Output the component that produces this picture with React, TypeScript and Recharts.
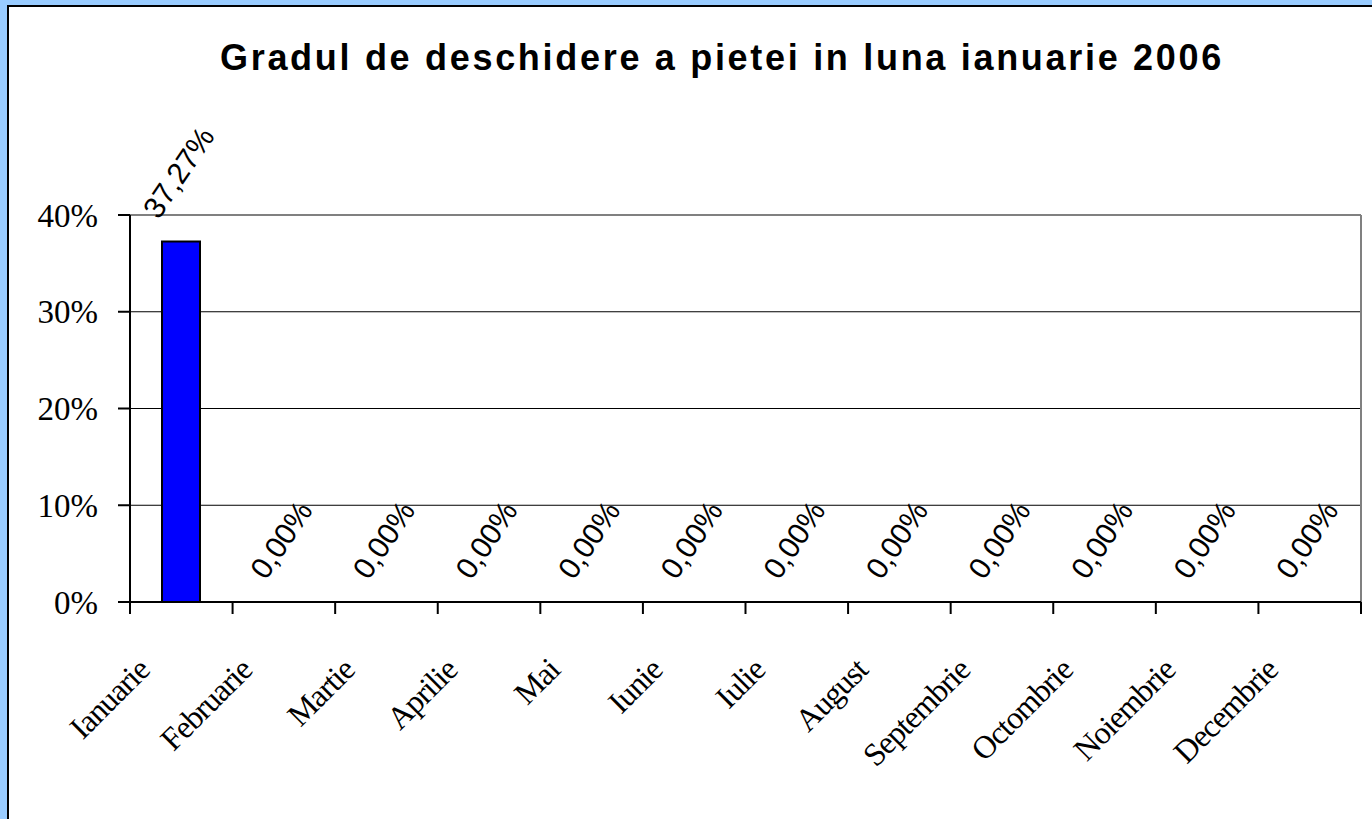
import { ComposedChart, Bar, Line, XAxis, YAxis, CartesianGrid, ReferenceLine, LabelList } from 'recharts';

const MONTHS = ['Ianuarie', 'Februarie', 'Martie', 'Aprilie', 'Mai', 'Iunie', 'Iulie', 'August', 'Septembrie', 'Octombrie', 'Noiembrie', 'Decembrie'];
const OPENNESS = [0.3727, 0, 0, 0, 0, 0, 0, 0, 0, 0, 0, 0];
const Y_TICKS = [0, 0.1, 0.2, 0.3, 0.4];
const EDGE_TICKS = [0, 1, 2, 3, 4, 5, 6, 7, 8, 9, 10, 11, 12];

const data = MONTHS.map((month, i) => ({ month, value: OPENNESS[i] }));

const pct = (v: number) => `${Math.round(v * 100)}%`;
const pct2 = (v: number) => `${(v * 100).toFixed(2).replace('.', ',')}%`;

// rough Arial advance widths (em), used to centre the rotated label over its bar
const emWidth = (s: string) => s.split('').reduce((w, c) => w + (c === ',' ? 0.278 : c === '%' ? 0.889 : 0.556), 0);

const LABEL_FONT = 30;
const LABEL_ANGLE = 56;

const MonthTick = (props: any) => {
    const { x, y, payload } = props;
    const tx = x - 30;
    const ty = y + 69;
    return (
        <text x={tx} y={ty} textAnchor="end" transform={`rotate(-45 ${tx} ${ty})`}
            fontFamily="'Liberation Serif', serif" fontSize={32} letterSpacing={-1} fill="#000">
            {payload.value}
        </text>
    );
};

const ValueLabel = (props: any) => {
    const { x, y, value } = props;
    const txt = pct2(value);
    const a = (LABEL_ANGLE * Math.PI) / 180;
    const L = emWidth(txt) * LABEL_FONT;
    const h = 0.716 * LABEL_FONT;
    const tx = x - 3 + 0.5 * (h * Math.sin(a) - L * Math.cos(a));
    const ty = y - 21;
    return (
        <text x={tx} y={ty} textAnchor="start" transform={`rotate(-${LABEL_ANGLE} ${tx} ${ty})`}
            fontFamily="'Liberation Sans', Arial, sans-serif" fontSize={LABEL_FONT} fill="#000">
            {txt}
        </text>
    );
};

export default function App() {
    return (
        <div style={{ position: 'absolute', left: 0, top: 0, width: 1372, height: 819, background: '#99ccff', overflow: 'hidden' }}>
            <div style={{ position: 'absolute', left: 7, top: 5, width: 1400, height: 900, border: '2px solid #000', background: '#fff' }} />
            <div style={{
                position: 'absolute', left: 0, top: 37, width: 1444, textAlign: 'center',
                fontFamily: "'Liberation Sans', Arial, sans-serif", fontWeight: 'bold', fontSize: 36, letterSpacing: 2.7, color: '#000',
            }}>
                Gradul de deschidere a pietei in luna ianuarie 2006
            </div>
            <div style={{ position: 'absolute', left: 0, top: 0 }}>
                <ComposedChart width={1372} height={819} data={data} margin={{ top: 215, right: 11, left: 0, bottom: 1 }}>
                    <CartesianGrid vertical={false} xAxisId="cat" stroke="#000" strokeWidth={1} />
                    {/* numeric helper axis: tick marks between the months, as in the original */}
                    <XAxis xAxisId="axis" dataKey="edge" type="number" domain={[0, 12]} allowDataOverflow ticks={EDGE_TICKS} height={1}
                        axisLine={{ stroke: '#000', strokeWidth: 2 }} tickFormatter={() => ''} tickSize={12}
                        tickLine={{ stroke: '#000', strokeWidth: 2 }} />
                    <XAxis dataKey="month" xAxisId="cat" height={215} tickLine={false} axisLine={false}
                        tickSize={0} tickMargin={0} interval={0} tick={<MonthTick />} />
                    <YAxis width={130} domain={[0, 0.4]} ticks={Y_TICKS} tickFormatter={pct} tickSize={12} tickMargin={20}
                        axisLine={{ stroke: '#000', strokeWidth: 2 }} tickLine={{ stroke: '#000', strokeWidth: 2 }}
                        tick={{ fill: '#000', fontSize: 33, fontFamily: "'Liberation Serif', serif" }} />
                    <ReferenceLine y={0.4} xAxisId="cat" stroke="#808080" strokeWidth={2} ifOverflow="visible" />
                    <ReferenceLine x={12} xAxisId="axis" stroke="#808080" strokeWidth={2} ifOverflow="visible" />
                    <Bar dataKey="value" xAxisId="cat" fill="#0000ff" stroke="#000" strokeWidth={2} barSize={38} isAnimationActive={false} />
                    <Line dataKey="value" xAxisId="cat" stroke="none" dot={false} activeDot={false} isAnimationActive={false}>
                        <LabelList dataKey="value" content={<ValueLabel />} />
                    </Line>
                </ComposedChart>
            </div>
        </div>
    );
}
